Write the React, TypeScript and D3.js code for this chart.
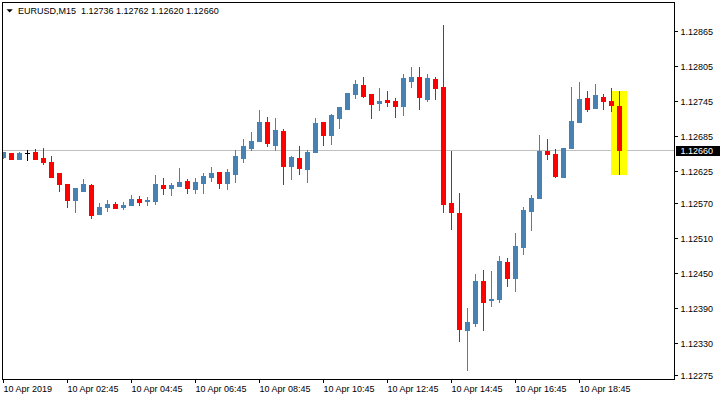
import React from 'react';
import * as d3 from 'd3';

// ---------- data ----------
const symbolTitle = 'EURUSD,M15';
const headerValues = ['1.12736', '1.12762', '1.12620', '1.12660'];

const opens = [
  1.12649, 1.12656, 1.12646, 1.12656, 1.12657, 1.12647, 1.12640, 1.12621, 1.12603, 1.12576,
  1.12591, 1.12601, 1.12552, 1.12564, 1.12568, 1.12564, 1.12567, 1.12577, 1.12574, 1.12574,
  1.12601, 1.12596, 1.12600, 1.12608, 1.12594, 1.12604, 1.12615, 1.12623, 1.12604, 1.12620,
  1.12647, 1.12664, 1.12676, 1.12709, 1.12669, 1.12693, 1.12634, 1.12647, 1.12629, 1.12658,
  1.12709, 1.12687, 1.12716, 1.12731, 1.12757, 1.12772, 1.12757, 1.12741, 1.12746, 1.12745,
  1.12736, 1.12779, 1.12786, 1.12748, 1.12782, 1.12769, 1.12570, 1.12553, 1.12353, 1.12365,
  1.12437, 1.12404, 1.12405, 1.12469, 1.12442, 1.12494, 1.12557, 1.12579, 1.12659, 1.12654,
  1.12615, 1.12664, 1.12709, 1.12750, 1.12733, 1.12752, 1.12745, 1.12736,
];
const highs = [
  1.12658, 1.12656, 1.12657, 1.12660, 1.12662, 1.12664, 1.12650, 1.12621, 1.12603, 1.12596,
  1.12612, 1.12603, 1.12570, 1.12575, 1.12572, 1.12572, 1.12584, 1.12582, 1.12580, 1.12618,
  1.12613, 1.12604, 1.12630, 1.12611, 1.12613, 1.12621, 1.12631, 1.12623, 1.12629, 1.12661,
  1.12680, 1.12692, 1.12729, 1.12717, 1.12716, 1.12697, 1.12650, 1.12668, 1.12661, 1.12716,
  1.12709, 1.12722, 1.12734, 1.12758, 1.12781, 1.12786, 1.12757, 1.12767, 1.12762, 1.12750,
  1.12791, 1.12803, 1.12803, 1.12791, 1.12786, 1.12875, 1.12659, 1.12588, 1.12390, 1.12449,
  1.12456, 1.12454, 1.12479, 1.12476, 1.12519, 1.12563, 1.12584, 1.12687, 1.12680, 1.12662,
  1.12664, 1.12769, 1.12777, 1.12762, 1.12774, 1.12757, 1.12767, 1.12762,
];
const lows = [
  1.12647, 1.12645, 1.12645, 1.12644, 1.12646, 1.12636, 1.12614, 1.12591, 1.12564, 1.12554,
  1.12591, 1.12545, 1.12552, 1.12557, 1.12562, 1.12560, 1.12566, 1.12566, 1.12567, 1.12569,
  1.12586, 1.12584, 1.12599, 1.12587, 1.12587, 1.12587, 1.12608, 1.12596, 1.12594, 1.12606,
  1.12640, 1.12661, 1.12676, 1.12668, 1.12660, 1.12603, 1.12611, 1.12620, 1.12606, 1.12658,
  1.12669, 1.12671, 1.12698, 1.12731, 1.12750, 1.12752, 1.12716, 1.12729, 1.12736, 1.12717,
  1.12721, 1.12769, 1.12731, 1.12745, 1.12748, 1.12554, 1.12526, 1.12334, 1.12285, 1.12360,
  1.12353, 1.12393, 1.12400, 1.12428, 1.12420, 1.12482, 1.12524, 1.12579, 1.12645, 1.12615,
  1.12615, 1.12664, 1.12709, 1.12728, 1.12733, 1.12731, 1.12728, 1.12620,
];
const closes = [
  1.12657, 1.12646, 1.12656, 1.12656, 1.12646, 1.12641, 1.12615, 1.12603, 1.12576, 1.12595,
  1.12603, 1.12550, 1.12564, 1.12568, 1.12562, 1.12567, 1.12577, 1.12572, 1.12576, 1.12603,
  1.12596, 1.12601, 1.12606, 1.12596, 1.12606, 1.12617, 1.12621, 1.12604, 1.12623, 1.12651,
  1.12668, 1.12676, 1.12709, 1.12672, 1.12695, 1.12633, 1.12649, 1.12630, 1.12657, 1.12707,
  1.12687, 1.12721, 1.12734, 1.12758, 1.12774, 1.12753, 1.12740, 1.12745, 1.12743, 1.12736,
  1.12784, 1.12786, 1.12752, 1.12784, 1.12767, 1.12569, 1.12554, 1.12355, 1.12366, 1.12437,
  1.12401, 1.12406, 1.12471, 1.12442, 1.12497, 1.12558, 1.12579, 1.12659, 1.12654, 1.12616,
  1.12664, 1.12710, 1.12748, 1.12731, 1.12755, 1.12745, 1.12738, 1.12660,
];

const xTickBars = [0, 8, 16, 24, 32, 40, 48, 56, 64, 72];
const xTickLabels = [
  '10 Apr 2019', '10 Apr 02:45', '10 Apr 04:45', '10 Apr 06:45', '10 Apr 08:45',
  '10 Apr 10:45', '10 Apr 12:45', '10 Apr 14:45', '10 Apr 16:45', '10 Apr 18:45',
];
const yTickValues = [1.12865, 1.12805, 1.12745, 1.12685, 1.12625, 1.1257, 1.1251, 1.1245, 1.1239, 1.1233, 1.12275];
const yTickLabels = ['1.12865', '1.12805', '1.12745', '1.12685', '1.12625', '1.12570', '1.12510', '1.12450', '1.12390', '1.12330', '1.12275'];
const currentPrice = 1.1266;
const currentPriceLabel = '1.12660';

// ---------- chart ----------
const W = 720;
const H = 400;
const plotL = 2;
const plotT = 2;
const plotR = 674;
const plotB = 379;

const FONT = "'Liberation Sans', Arial, sans-serif";
const BULL = '#4682B4';
const BEAR = '#FF0000';

export default function App() {
  const n = opens.length;
  const x = d3.scaleLinear().domain([0, n - 1]).range([3, 3 + 8 * (n - 1)]);
  const y = d3.scaleLinear().domain([1.12275, 1.12865]).range([375.4, 30.7]);

  const candles = opens.map((o, i) => {
    const c = closes[i];
    const h = highs[i];
    const l = lows[i];
    const cx = Math.round(x(i));
    const top = Math.round(y(Math.max(o, c)));
    const bot = Math.round(y(Math.min(o, c)));
    const color = o === c ? '#000000' : c > o ? BULL : BEAR;
    const wTop = Math.round(y(h));
    const wBot = Math.round(y(l));
    return (
      <g key={i}>
        <rect x={cx} y={wTop} width={1} height={wBot - wTop + 1} fill={color} />
        <rect x={cx - 2} y={top} width={5} height={Math.max(1, bot - top + (o === c ? 0 : 1))} fill={color} />
      </g>
    );
  });

  const last = n - 1;
  const lastCx = Math.round(x(last));
  const hlTop = Math.round(y(highs[last]));
  const hlBot = Math.round(y(lows[last]));
  const py = Math.round(y(currentPrice));

  return (
    <svg
      width={W}
      height={H}
      viewBox={`0 0 ${W} ${H}`}
      style={{ position: 'fixed', left: 0, top: 0, background: '#fff', display: 'block' }}
      fontFamily={FONT}
    >
      <defs>
        <clipPath id="plotClip">
          <rect x={plotL + 1} y={plotT + 1} width={plotR - plotL - 1} height={plotB - plotT - 1} />
        </clipPath>
      </defs>
      <rect x={0} y={0} width={W} height={H} fill="#ffffff" />

      <g clipPath="url(#plotClip)">
        {/* current price line */}
        <rect x={plotL} y={py} width={plotR - plotL} height={1} fill="#C0C0C0" />
        {/* highlight of the last candle */}
        <rect x={lastCx - 8} y={hlTop} width={16} height={hlBot - hlTop + 1} fill="#FFFF00" />
        {candles}
      </g>

      {/* frame */}
      <rect x={plotL + 0.5} y={plotT + 0.5} width={plotR - plotL} height={plotB - plotT} fill="none" stroke="#000" strokeWidth={1} />

      {/* header */}
      <polygon points="6.5,9.3 12.8,9.3 9.65,12.5" fill="#000" />
      <text x={18} y={14} fontSize={9} fill="#000" style={{ whiteSpace: 'pre' }}>
        {`${symbolTitle}  ${headerValues.join(' ')}`}
      </text>

      {/* right axis */}
      {yTickValues.map((v, i) => {
        const ty = Math.round(y(v));
        return (
          <g key={`yt${i}`}>
            <rect x={plotR + 1} y={ty} width={3} height={1} fill="#000" />
            <text x={680.5} y={ty + 3.8} fontSize={9} fill="#000">
              {yTickLabels[i]}
            </text>
          </g>
        );
      })}

      {/* current price label */}
      <rect x={676} y={py - 4} width={44} height={10} fill="#000" />
      <text x={680.5} y={py + 3.8} fontSize={9} fill="#fff">
        {currentPriceLabel}
      </text>

      {/* bottom axis */}
      {xTickBars.map((b, i) => {
        const tx = Math.round(x(b));
        return (
          <g key={`xt${i}`}>
            <rect x={tx} y={plotB + 1} width={1} height={3} fill="#000" />
            <text x={tx + 0.5} y={392} fontSize={9} fill="#000">
              {xTickLabels[i]}
            </text>
          </g>
        );
      })}
    </svg>
  );
}
